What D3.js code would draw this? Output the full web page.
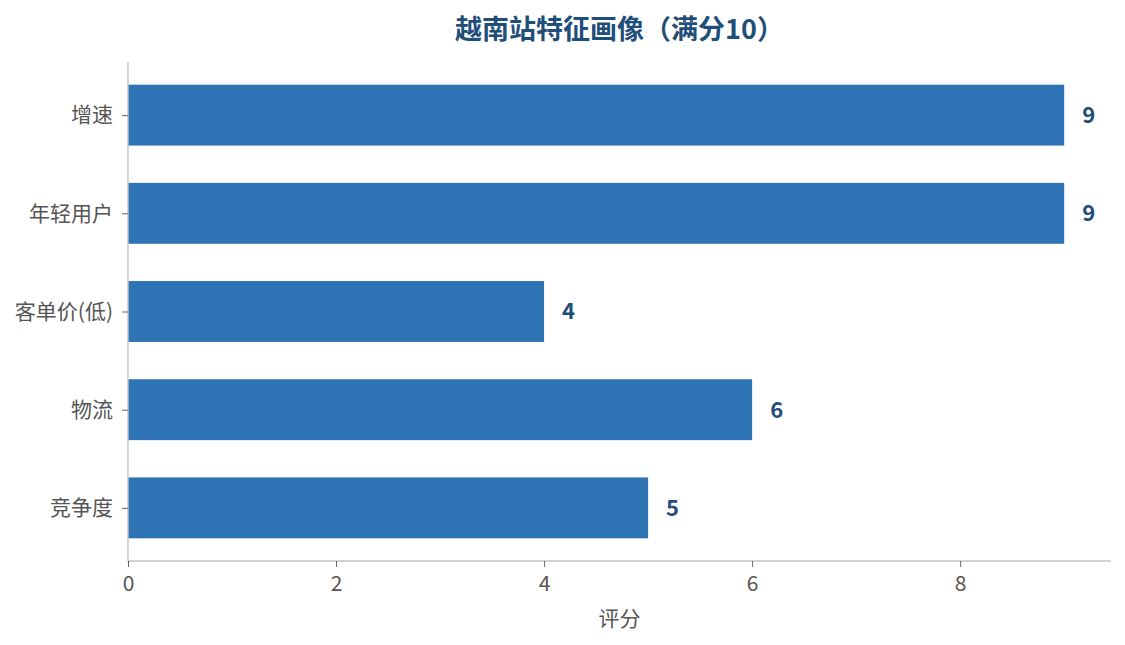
<!DOCTYPE html>
<html>
<head>
<meta charset="utf-8">
<script src="https://cdn.jsdelivr.net/npm/d3@7"></script>
<style>
  body { margin: 0; background: #fff; }
  text { font-family: "Noto Sans CJK SC", "Noto Sans", sans-serif; }
</style>
</head>
<body>
<svg id="chart" width="1125" height="645"></svg>
<script>
const categories = ['增速', '年轻用户', '客单价(低)', '物流', '竞争度']
const scores = [9, 9, 4, 6, 5]
const xTicks = [0, 2, 4, 6, 8]

const W = 1125, H = 645
const margin = { top: 62, right: 14, bottom: 84, left: 128 }
const innerW = W - margin.left - margin.right
const innerH = H - margin.top - margin.bottom

const svg = d3.select('#chart')
const g = svg.append('g')
  .attr('transform', `translate(${margin.left},${margin.top})`)

// x: 5% padding on the right, like the source chart
const x = d3.scaleLinear()
  .domain([0, d3.max(scores) * 1.05])
  .range([0, innerW])

// y: category positions 0..n-1, bar height 0.62, 5% margins
const n = categories.length
const barH = 0.62
const lo = -barH / 2, hi = n - 1 + barH / 2
const pad = (hi - lo) * 0.05
const y = d3.scaleLinear()
  .domain([lo - pad, hi + pad])
  .range([0, innerH])

// bars
g.selectAll('.bar')
  .data(scores)
  .enter().append('rect')
  .attr('class', 'bar')
  .attr('x', x(0))
  .attr('y', (d, i) => y(i - barH / 2))
  .attr('width', d => x(d) - x(0))
  .attr('height', y(barH) - y(0))
  .attr('fill', '#2e73b3')

// value labels
g.selectAll('.val')
  .data(scores)
  .enter().append('text')
  .attr('class', 'val')
  .attr('x', d => x(d) + 18)
  .attr('y', (d, i) => y(i))
  .attr('dy', '0.36em')
  .attr('font-size', 22)
  .attr('font-weight', 'bold')
  .attr('fill', '#1f4e79')
  .text(d => d)

// x axis
const xAxis = g.append('g')
  .attr('transform', `translate(0,${innerH})`)
  .call(d3.axisBottom(x).tickValues(xTicks).tickSize(6).tickPadding(9))
xAxis.select('.domain').attr('stroke', '#c4c4c4').attr('stroke-width', 1.4)
  .attr('d', `M0,0H${innerW}`)
xAxis.selectAll('.tick line').attr('stroke', '#666')
xAxis.selectAll('.tick text').attr('font-size', 21).attr('fill', '#555')

// y axis
const yAxis = g.append('g')
  .call(d3.axisLeft(y).tickValues(d3.range(n)).tickFormat(i => categories[i]).tickSize(6).tickPadding(9))
yAxis.select('.domain').attr('stroke', '#c4c4c4').attr('stroke-width', 1.4)
  .attr('d', `M0,0V${innerH}`)
yAxis.selectAll('.tick line').attr('stroke', '#666')
yAxis.selectAll('.tick text').attr('font-size', 21).attr('fill', '#555')

// axis label
g.append('text')
  .attr('x', innerW / 2)
  .attr('y', innerH + 65)
  .attr('text-anchor', 'middle')
  .attr('font-size', 21)
  .attr('fill', '#555')
  .text('评分')

// title
svg.append('text')
  .attr('x', margin.left + innerW / 2)
  .attr('y', 39)
  .attr('text-anchor', 'middle')
  .attr('font-size', 27)
  .attr('font-weight', 'bold')
  .attr('fill', '#1f4e79')
  .text('越南站特征画像（满分10）')
</script>
</body>
</html>
